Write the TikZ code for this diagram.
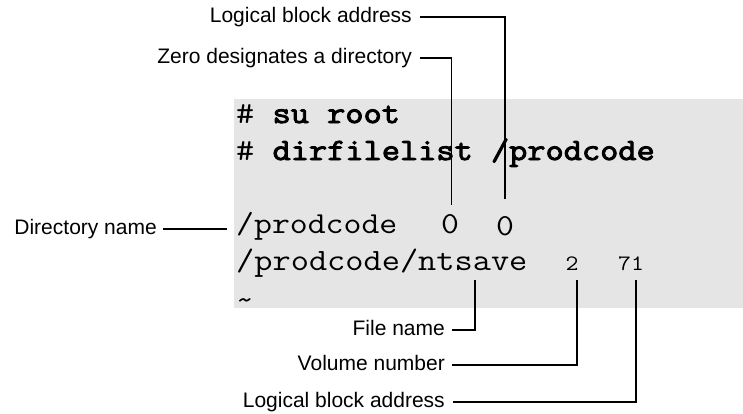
\documentclass[tikz,border=0pt]{standalone}
\usepackage{fontspec}
\setmainfont{Liberation Sans}
\newfontfamily\codefont[FakeStretch=1.14, BoldFont=Latin Modern Mono, BoldFeatures={FakeBold=3}]{Latin Modern Mono}
\usepackage{tikz}
\definecolor{shell_gray}{RGB}{229, 229, 229}

\begin{document}
\begin{tikzpicture}[x=1pt, y=-1pt,
    lbl/.style={inner sep=0pt, text height=11pt, text depth=0pt, anchor=east, font=\fontsize{21}{25}\selectfont},
    code/.style={inner sep=0pt, anchor=base west, font=\fontsize{31}{37}\selectfont\codefont},
    num/.style={inner sep=0pt, anchor=base, font=\fontsize{22}{26}\selectfont\codefont},
    conn/.style={line width=1.6pt}]
    \useasboundingbox (0,0) rectangle (743,413);
    % Shell window
    \fill[shell_gray] (234,99) rectangle (743,308);

    % Commands
    \node[code] (cmdsu) at (236,123) {\# \textbf{su root}};
    \node[code] (cmdlist) at (236,160) {\# \textbf{dirfilelist /prodcode}};

    % Output
    \node[code, font=\fontsize{30.5}{37}\selectfont\codefont] (dirrow) at (236,233) {/prodcode};
    \node[code, anchor=base, font=\fontsize{30.5}{37}\selectfont\codefont] (zerodir) at (450,233) {0};
    \node[code, anchor=base, font=\fontsize{30.5}{37}\selectfont\codefont] (zerolba) at (505,235) {0};
    \node[code] (filerow) at (236,270) {/prodcode/ntsave};
    \node[num] (volnum) at (572,270) {2};
    \node[num] (lbanum) at (631,270) {71};
    \node[num, font=\fontsize{30}{36}\selectfont\codefont] (tilderow) at (245,309) {\textasciitilde};

    % Labels
    \node[lbl] (lbatoplbl) at (412,17) {Logical block address};
    \node[lbl] (zerolbl) at (412,58) {Zero designates a directory};
    \node[lbl] (dirlbl) at (157,229) {Directory name};
    \node[lbl] (filelbl) at (445,330) {File name};
    \node[lbl] (vollbl) at (445,365) {Volume number};
    \node[lbl] (lbabotlbl) at (445,402) {Logical block address};

    % Connectors
    \coordinate (lbatopend) at (505,199);
    \coordinate (zeroend) at (451.5,205);
    \coordinate (fileend) at (475,280);
    \coordinate (volend) at (577,280);
    \coordinate (lbabotend) at (636,280);
    \draw[conn] ([xshift=8pt]lbatoplbl.east) -| (lbatopend);
    \draw[conn] ([xshift=8pt]zerolbl.east) -| (zeroend);
    \draw[conn] ([xshift=6pt]dirlbl.east) -- ([xshift=-9pt]dirlbl.east -| dirrow.west);
    \draw[conn] ([xshift=7pt]filelbl.east) -| (fileend);
    \draw[conn] ([xshift=7pt]vollbl.east) -| (volend);
    \draw[conn] ([xshift=8pt]lbabotlbl.east) -| (lbabotend);
\end{tikzpicture}
\end{document}
